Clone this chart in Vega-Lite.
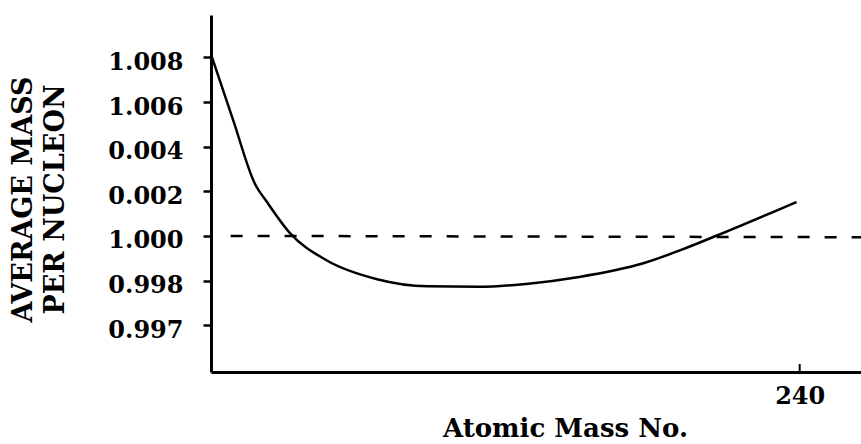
{
  "$schema": "https://vega.github.io/schema/vega-lite/v6.json",
  "width": 650,
  "height": 357,
  "autosize": "none",
  "padding": {"left": 211, "top": 15, "right": 0, "bottom": 72},
  "background": "white",
  "config": {
    "view": {"stroke": null},
    "axis": {"grid": false, "domainColor": "black", "tickColor": "black", "labelColor": "black", "titleColor": "black", "labelFont": "DejaVu Serif", "titleFont": "DejaVu Serif"}
  },
  "datasets": {
    "curve": [
      {"A": 0.3, "level": 6.02},
      {"A": 9.0, "level": 4.6},
      {"A": 17.8, "level": 3.18},
      {"A": 23.2, "level": 2.73},
      {"A": 32.4, "level": 2.05},
      {"A": 46.9, "level": 1.46},
      {"A": 67.7, "level": 1.03},
      {"A": 88.2, "level": 0.87},
      {"A": 108.9, "level": 0.86},
      {"A": 129.4, "level": 0.93},
      {"A": 150.1, "level": 1.08},
      {"A": 175.9, "level": 1.38},
      {"A": 191.4, "level": 1.68},
      {"A": 206.8, "level": 2.02},
      {"A": 238.7, "level": 2.76}
    ],
    "ref": [
      {"A": 8, "level": 2},
      {"A": 265, "level": 1.97}
    ]
  },
  "encoding": {
    "x": {
      "field": "A", "type": "quantitative",
      "scale": {"domain": [0, 265], "nice": false, "zero": false},
      "axis": {
        "values": [240], "title": "Atomic Mass No.",
        "domainWidth": 3, "ticks": false,
        "labelFontSize": 24, "labelFontWeight": "bold", "labelPadding": 12,
        "titleFontSize": 26, "titleFontWeight": "bold",
        "titleX": 354, "titleY": 64, "titleAlign": "center", "titleBaseline": "alphabetic"
      }
    },
    "y": {
      "field": "level", "type": "quantitative",
      "scale": {"domain": [-1.05, 6.95], "nice": false, "zero": false},
      "axis": {
        "values": [0, 1, 2, 3, 4, 5, 6],
        "labelExpr": "['0.997','0.998','1.000','0.002','0.004','1.006','1.008'][datum.value]",
        "title": ["AVERAGE MASS", "PER NUCLEON"],
        "domainWidth": 3, "tickWidth": 2.5, "tickSize": 8,
        "labelFontSize": 24, "labelFontWeight": "bold", "labelPadding": 20, "labelOffset": 5,
        "titleFontSize": 27, "titleFontWeight": "bold", "titleLineHeight": 32,
        "titleX": -174, "titleY": 184, "titleAngle": -90, "titleAlign": "center", "titleBaseline": "bottom"
      }
    }
  },
  "layer": [
    {
      "data": {"name": "curve"},
      "mark": {"type": "line", "color": "black", "strokeWidth": 2.5, "interpolate": "monotone", "clip": false}
    },
    {
      "data": {"name": "ref"},
      "mark": {"type": "line", "color": "black", "strokeWidth": 2.5, "strokeDash": [12, 15]}
    },
    {
      "data": {"values": [{"A": 240, "lo": -1.05, "hi": -0.87}]},
      "mark": {"type": "rule", "color": "black", "strokeWidth": 2},
      "encoding": {
        "x": {"field": "A", "type": "quantitative"},
        "y": {"field": "lo", "type": "quantitative"},
        "y2": {"field": "hi"}
      }
    }
  ]
}
